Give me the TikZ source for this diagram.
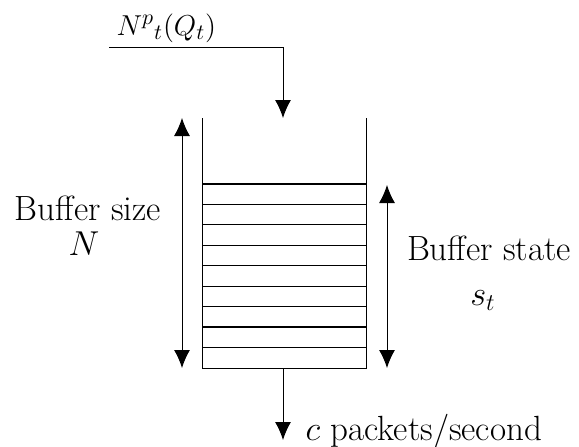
\documentclass[tikz,border=0pt]{standalone}
\usetikzlibrary{positioning, arrows.meta}
\begin{document}
\begin{tikzpicture}[x=0.5pt, y=-0.5pt, >={Latex[length=9pt, width=8pt]}, line width=0.5pt]
    % Stili
    \tikzstyle{lbl} = [font=\fontsize{17.5}{20}\selectfont, inner sep=0pt]
    \tikzstyle{slot} = [line width=0.6pt]
    \useasboundingbox (0,0) rectangle (579,446);

    % Buffer
    \coordinate (top_l) at (202,118);
    \coordinate (top_r) at (366,118);
    \coordinate (bot_l) at (202,368);
    \coordinate (bot_r) at (366,368);
    \draw (top_l) -- (bot_l) -- (bot_r) -- (top_r);
    \foreach \i in {0,...,8}
        \draw [slot] (202,{184+20.44*\i}) -- (366,{184+20.44*\i});

    % Ingresso
    \coordinate (in_start) at (109,47);
    \coordinate (in_corner) at (283,47);
    \coordinate (in_end) at (283,118);
    \draw [->] (in_start) -- (in_corner) -- (in_end);
    \node [lbl, anchor=base west, font=\fontsize{15}{18}\selectfont] (in_lbl) at (116,35) {$N^{p}{}_{t}(Q_{t})$};

    % Uscita
    \coordinate (out_start) at (283,368);
    \coordinate (out_end) at (283,440);
    \draw [->] (out_start) -- (out_end);
    \node [lbl, anchor=base west] (out_lbl) at (305,440) {$c$ packets/second};

    % Frecce laterali
    \coordinate (size_top) at (182,118);
    \coordinate (size_bot) at (182,368);
    \draw [<->] (size_top) -- (size_bot);
    \coordinate (state_top) at (387,185);
    \coordinate (state_bot) at (387,368);
    \draw [<->] (state_top) -- (state_bot);

    % Etichette
    \node [lbl, anchor=base] (size_lbl) at (88,220) {Buffer size};
    \node [lbl, anchor=base] (size_val) at (84,255) {$N$};
    \node [lbl, anchor=base] (state_lbl) at (489,260) {Buffer state};
    \node [lbl, anchor=base] (state_val) at (483,305) {$s_{t}$};
\end{tikzpicture}
\end{document}
